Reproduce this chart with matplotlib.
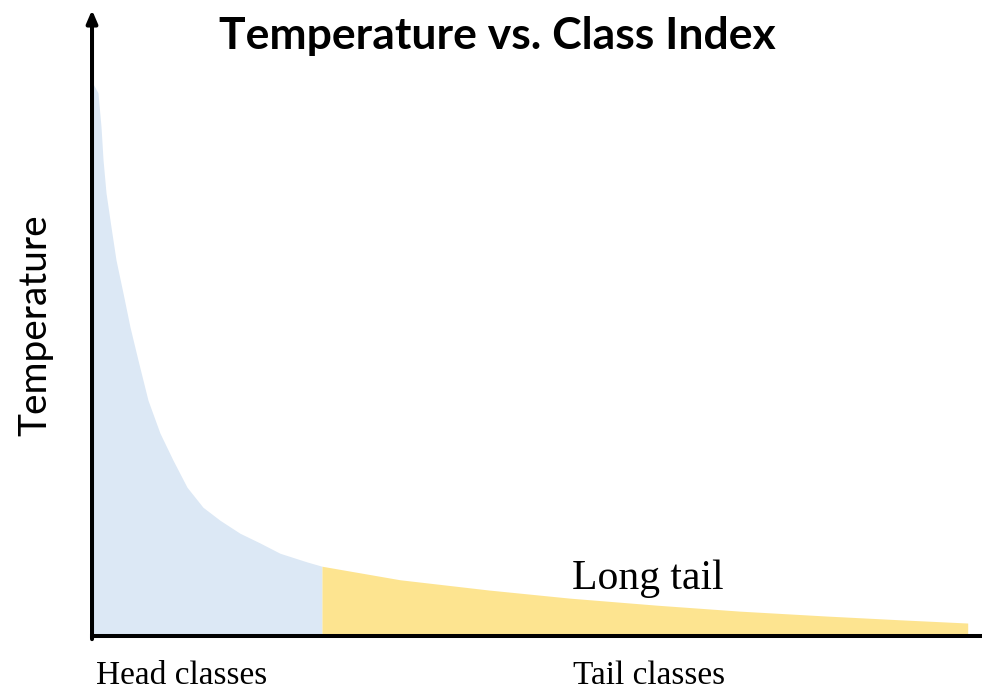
import matplotlib
matplotlib.use("Agg")
import matplotlib.pyplot as plt
import numpy as np

# curve (class index 0..100, temperature arbitrary units)
class_idx = [0.0, 0.68, 1.03, 1.26, 1.60, 2.17, 2.74, 3.54, 4.34, 5.25, 6.39,
             7.76, 9.25, 10.85, 12.67, 14.61, 16.89, 19.18, 21.46, 24.54,
             26.26, 35.16, 45.32, 54.57, 64.50, 73.97, 83.79, 92.24, 100.0]
temperature = [102.4, 100.4, 94.1, 88.0, 81.9, 75.6, 69.5, 63.4, 57.1, 51.0,
               43.6, 37.5, 32.5, 27.5, 23.8, 21.4, 19.0, 17.2, 15.3, 13.7,
               12.9, 10.4, 8.5, 7.0, 5.7, 4.6, 3.7, 3.0, 2.4]
head_end = 26.26

title = "Temperature vs. Class Index"
ylabel = "Temperature"
region_labels = ["Head classes", "Tail classes"]
tail_label = "Long tail"

blue = "#dce8f5"
yellow = "#fde490"

x = np.array(class_idx)
y = np.array(temperature)

fig = plt.figure(figsize=(9.82, 6.99), dpi=100)
ax = fig.add_axes([0.0937, 0.0901, 0.906, 0.8956])
ax.set_xlim(0, 101.6)
ax.set_ylim(0, 115.7)

head = x <= head_end
tail = x >= head_end
ax.fill_between(x[head], 0, y[head], color=blue, lw=0)
ax.fill_between(x[tail], 0, y[tail], color=yellow, lw=0)

for s in ["top", "right", "left"]:
    ax.spines[s].set_visible(False)
ax.spines["bottom"].set_linewidth(2.9)
ax.spines["bottom"].set_color("black")
ax.set_xticks([])
ax.set_yticks([])

# y axis with arrow head
ax.annotate("", xy=(0, 1.0), xytext=(0, -0.005), xycoords="axes fraction",
            arrowprops=dict(arrowstyle="-|>,head_length=0.75,head_width=0.32",
                            lw=2.9, color="black", shrinkA=0, shrinkB=0))

fig.text(0.506, 0.948, title, ha="center", va="center", fontsize=32,
         fontweight="bold", family="Lato")
fig.text(0.036, 0.535, ylabel, ha="center", va="center", rotation=90,
         fontsize=28, family="Lato")

serif = ["Liberation Serif", "DejaVu Serif"]
ax.text(54.8, 10.6, tail_label, ha="left", va="center", fontsize=30, family=serif)
ax.text(0.5, -7.3, region_labels[0], ha="left", va="center", fontsize=24,
        family=serif, clip_on=False)
ax.text(54.9, -7.3, region_labels[1], ha="left", va="center", fontsize=24,
        family=serif, clip_on=False)

fig.savefig("out.png", dpi=100)
